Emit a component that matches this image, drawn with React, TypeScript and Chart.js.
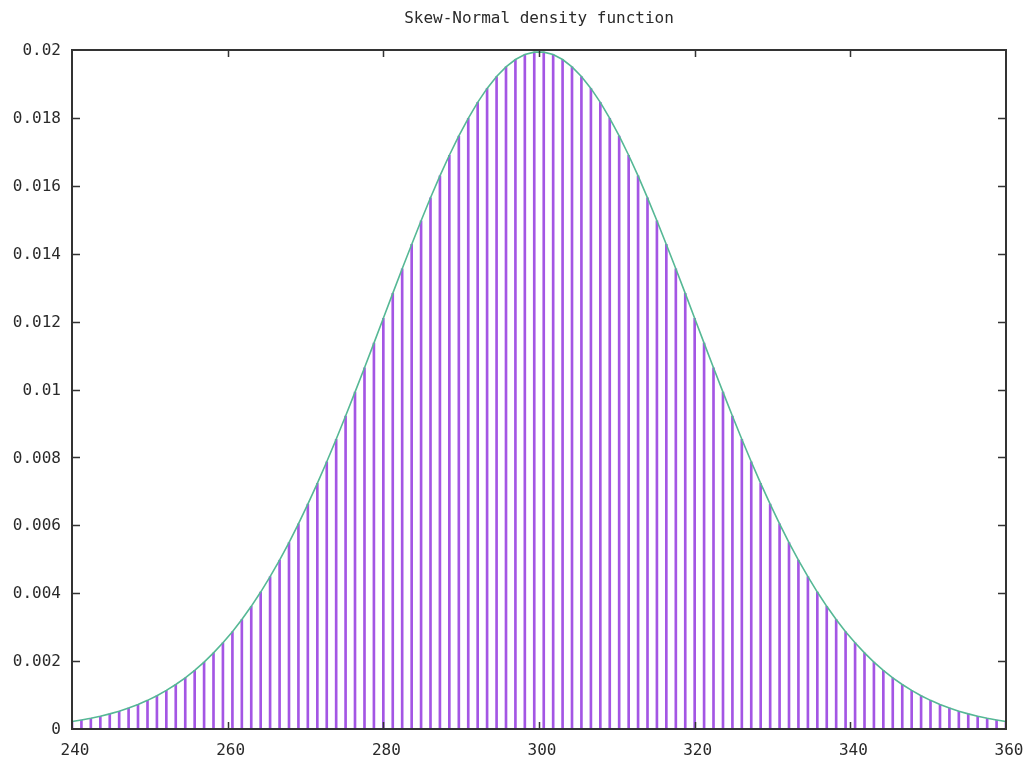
import React, { useEffect, useRef } from "react";
import { Chart, registerables } from "chart.js";

Chart.register(...registerables);

const TITLE = "Skew-Normal density function";

const X_VALUES: number[] = [
  240.0, 241.21, 242.42, 243.64, 244.85, 246.06, 247.27, 248.48, 249.7, 250.91,
  252.12, 253.33, 254.55, 255.76, 256.97, 258.18, 259.39, 260.61, 261.82, 263.03,
  264.24, 265.45, 266.67, 267.88, 269.09, 270.3, 271.52, 272.73, 273.94, 275.15,
  276.36, 277.58, 278.79, 280.0, 281.21, 282.42, 283.64, 284.85, 286.06, 287.27,
  288.48, 289.7, 290.91, 292.12, 293.33, 294.55, 295.76, 296.97, 298.18, 299.39,
  300.61, 301.82, 303.03, 304.24, 305.45, 306.67, 307.88, 309.09, 310.3, 311.52,
  312.73, 313.94, 315.15, 316.36, 317.58, 318.79, 320.0, 321.21, 322.42, 323.64,
  324.85, 326.06, 327.27, 328.48, 329.7, 330.91, 332.12, 333.33, 334.55, 335.76,
  336.97, 338.18, 339.39, 340.61, 341.82, 343.03, 344.24, 345.45, 346.67, 347.88,
  349.09, 350.3, 351.52, 352.73, 353.94, 355.15, 356.36, 357.58, 358.79, 360.0,
];

const DENSITY: number[] = [
  0.000222, 0.000265, 0.000316, 0.000376, 0.000445, 0.000525, 0.000618, 0.000723, 0.000844, 0.000981,
  0.001136, 0.001311, 0.001508, 0.001727, 0.001971, 0.002242, 0.00254, 0.002867, 0.003225, 0.003613,
  0.004034, 0.004488, 0.004974, 0.005492, 0.006043, 0.006624, 0.007234, 0.007872, 0.008535, 0.009219,
  0.009922, 0.010639, 0.011366, 0.012099, 0.012831, 0.013558, 0.014273, 0.014971, 0.015646, 0.016291,
  0.0169, 0.017468, 0.017989, 0.018458, 0.018869, 0.019219, 0.019503, 0.019719, 0.019865, 0.019938,
  0.019938, 0.019865, 0.019719, 0.019503, 0.019219, 0.018869, 0.018458, 0.017989, 0.017468, 0.0169,
  0.016291, 0.015646, 0.014971, 0.014273, 0.013558, 0.012831, 0.012099, 0.011366, 0.010639, 0.009922,
  0.009219, 0.008535, 0.007872, 0.007234, 0.006624, 0.006043, 0.005492, 0.004974, 0.004488, 0.004034,
  0.003613, 0.003225, 0.002867, 0.00254, 0.002242, 0.001971, 0.001727, 0.001508, 0.001311, 0.001136,
  0.000981, 0.000844, 0.000723, 0.000618, 0.000525, 0.000445, 0.000376, 0.000316, 0.000265, 0.000222,
];

const X_TICK_LABELS: string[] = ["240", "260", "280", "300", "320", "340", "360"];
const Y_TICK_LABELS: string[] = [
  "0", "0.002", "0.004", "0.006", "0.008", "0.01", "0.012", "0.014", "0.016", "0.018", "0.02",
];

const FONT_FAMILY = "'DejaVu Sans Mono', 'Liberation Mono', monospace";
const TEXT_COLOR = "#2a2a2a";
const IMPULSE_COLOR = "#a456e4";
const CURVE_COLOR = "#55b895";
const FRAME_COLOR = "#333333";

const framePlugin = {
  id: "gnuplotFrame",
  afterDatasetsDraw(chart: any) {
    const { ctx, chartArea } = chart;
    const { left, right, top, bottom } = chartArea;
    const xs = chart.scales.x;
    const ys = chart.scales.y;
    ctx.save();
    ctx.strokeStyle = FRAME_COLOR;
    ctx.lineWidth = 1.5;
    ctx.beginPath();
    xs.ticks.forEach((t: any) => {
      const px = Math.round(xs.getPixelForValue(t.value)) + 0.5;
      if (px <= left + 2 || px >= right - 2) return;
      ctx.moveTo(px, bottom);
      ctx.lineTo(px, bottom - 7);
      ctx.moveTo(px, top);
      ctx.lineTo(px, top + 7);
    });
    ys.ticks.forEach((t: any) => {
      const py = Math.round(ys.getPixelForValue(t.value)) + 0.5;
      if (py <= top + 2 || py >= bottom - 2) return;
      ctx.moveTo(left, py);
      ctx.lineTo(left + 8, py);
      ctx.moveTo(right, py);
      ctx.lineTo(right - 8, py);
    });
    ctx.stroke();
    ctx.lineWidth = 2;
    ctx.strokeRect(left, top, right - left, bottom - top);
    ctx.restore();
  },
};

export default function App() {
  const canvasRef = useRef<HTMLCanvasElement | null>(null);

  useEffect(() => {
    document.body.style.margin = "0";
    const canvas = canvasRef.current;
    if (!canvas) return;
    const points = X_VALUES.map((x, i) => ({ x, y: DENSITY[i] }));

    const chart = new Chart(canvas, {
      type: "bar",
      data: {
        datasets: [
          {
            type: "line",
            data: points,
            borderColor: CURVE_COLOR,
            borderWidth: 1.6,
            pointRadius: 0,
            tension: 0,
            fill: false,
            order: 0,
          } as any,
          {
            type: "bar",
            data: points,
            backgroundColor: IMPULSE_COLOR,
            borderWidth: 0,
            barThickness: 2,
            order: 1,
          } as any,
        ],
      },
      options: {
        responsive: false,
        animation: false,
        layout: { padding: { left: 0, right: 18, top: 0, bottom: 0 } },
        plugins: {
          legend: { display: false },
          tooltip: { enabled: false },
          title: {
            display: true,
            text: TITLE,
            fullSize: false,
            color: TEXT_COLOR,
            font: { family: FONT_FAMILY, size: 16, weight: "normal", lineHeight: 1.2 },
            padding: { top: 9, bottom: 21.8 },
          },
        },
        scales: {
          x: {
            type: "linear",
            min: 240,
            max: 360,
            offset: false,
            grid: { display: false, drawTicks: false, offset: false },
            border: { display: false },
            ticks: {
              stepSize: 20,
              padding: 12,
              labelOffset: 3,
              maxRotation: 0,
              autoSkip: false,
              color: TEXT_COLOR,
              font: { family: FONT_FAMILY, size: 16 },
              callback: (_v: any, i: number) => X_TICK_LABELS[i] ?? "",
            },
            afterFit: (s: any) => {
              s.height = 39;
              s.paddingLeft = 0;
              s.paddingRight = 0;
            },
          },
          y: {
            type: "linear",
            min: 0,
            max: 0.02,
            grid: { display: false, drawTicks: false },
            border: { display: false },
            ticks: {
              stepSize: 0.002,
              padding: 11,
              labelOffset: 1,
              autoSkip: false,
              color: TEXT_COLOR,
              font: { family: FONT_FAMILY, size: 16 },
              callback: (_v: any, i: number) => Y_TICK_LABELS[i] ?? "",
            },
            afterFit: (s: any) => {
              s.width = 72;
              s.paddingTop = 0;
              s.paddingBottom = 0;
            },
          },
        },
      } as any,
      plugins: [framePlugin],
    });

    return () => chart.destroy();
  }, []);

  return (
    <div style={{ width: 1024, height: 768, background: "#ffffff" }}>
      <canvas ref={canvasRef} width={1024} height={768} />
    </div>
  );
}
